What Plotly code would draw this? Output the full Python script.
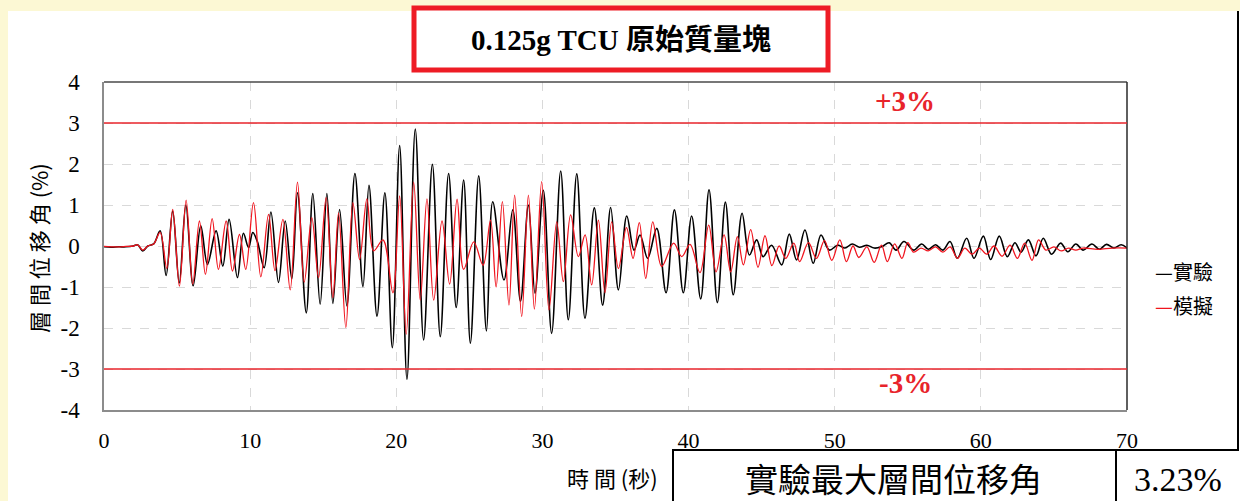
import plotly.graph_objects as go

# ---------------- data (peaks / troughs) ----------------
exp_t = [0, 0.5, 1.0, 1.5, 2.0, 2.3, 2.65, 3.0, 3.4, 3.84, 4.25, 4.7, 5.15, 5.6, 6.1,
         6.62, 7.08, 7.67, 8.13, 8.56, 9.13, 9.54, 9.89, 10.18, 10.5, 10.96, 11.42, 11.94,
         12.4, 12.85, 13.24, 13.84, 14.29, 14.79, 15.25, 15.66, 16.12, 16.62, 17.17, 17.72,
         18.13, 18.68, 19.22, 19.73, 20.23, 20.73, 21.3, 21.87, 22.47, 23.01, 23.58, 24.1,
         24.61, 25.07, 25.64, 26.17, 26.6, 27.37, 27.97, 28.5, 29.04, 29.49, 30.06, 30.63,
         31.25, 31.77, 32.35, 32.91, 33.55, 34.12, 34.67, 35.2, 35.77, 36.27, 36.68, 37.2,
         37.82, 38.46, 39.03, 39.64, 40.21, 40.83, 41.4, 41.97, 42.52, 43.06, 43.66, 44.16,
         44.66, 45.1, 45.68, 46.37, 46.89, 47.39, 47.96, 48.53, 49.06, 49.63, 50.2, 50.7,
         51.2, 51.7, 52.2, 52.7, 53.2, 53.73, 54.2, 54.74, 55.4, 55.95, 56.4, 56.9, 57.4,
         57.89, 58.39, 59.03, 59.53, 60.17, 60.67, 61.26, 61.81, 62.33, 62.75, 63.25, 63.77,
         64.27, 64.84, 65.46, 65.95, 66.5, 67.0, 67.6, 68.1, 68.6, 69.1, 69.6, 70.0]
exp_v = [-0.02, -0.03, -0.02, -0.02, 0.0, 0.03, -0.12, 0.0, 0.05, 0.37, -0.72, 0.85, -0.9,
         1.0, -0.97, 0.49, -0.45, 0.37, -0.49, 0.65, -0.77, 0.31, -0.04, 0.33, 0.1, -0.53,
         0.83, -0.89, 0.61, -0.8, 1.3, -1.63, 1.28, -1.42, 1.28, -1.4, 0.89, -1.46, 1.77,
         -0.99, 1.48, -1.71, 1.3, -2.48, 2.45, -3.25, 2.85, -2.29, 1.99, -2.21, 1.77, -1.5,
         1.61, -2.37, 1.71, -2.07, 1.08, -0.83, 0.88, -1.35, 1.0, -1.15, 1.36, -2.13, 1.83,
         -1.8, 1.76, -1.76, 0.93, -1.44, 0.94, -1.07, 0.73, -0.1, 0.27, -0.3, 0.43, -1.14,
         0.88, -1.14, 0.73, -1.29, 1.37, -1.38, 1.07, -1.19, 0.8, -0.22, 0.15, -0.26, 0.02,
         -0.46, 0.29, -0.34, 0.39, -0.42, 0.27, -0.1, 0.02, -0.05, 0.05, -0.03, 0.02, -0.05,
         -0.02, 0.08, -0.1, 0.11, -0.1, 0.05, -0.08, 0.03, -0.1, 0.11, -0.3, 0.19, -0.3, 0.24,
         -0.33, 0.24, -0.26, 0.08, -0.15, 0.15, -0.24, 0.19, -0.2, 0.07, -0.14, 0.05, -0.1,
         0.05, -0.08, 0.04, -0.05, 0.03, -0.05]

sim_t = [0, 0.5, 1.0, 1.5, 2.0, 2.3, 2.65, 3.0, 3.4, 3.84, 4.3, 4.7, 5.16, 5.62, 6.07,
         6.53, 6.94, 7.4, 7.83, 8.36, 8.79, 9.27, 9.7, 10.23, 10.73, 11.26, 11.7, 12.24,
         12.74, 13.24, 13.7, 14.22, 14.68, 15.2, 15.66, 16.05, 16.55, 17.03, 17.49, 17.99,
         18.45, 19.09, 19.77, 20.23, 20.68, 21.19, 21.64, 22.1, 22.56, 23.13, 23.65, 24.16,
         24.61, 25.3, 25.94, 26.45, 26.83, 27.26, 27.71, 28.1, 28.58, 29.04, 29.45, 29.95,
         30.45, 30.98, 31.43, 31.93, 32.46, 32.92, 33.37, 33.83, 34.28, 34.74, 35.2, 35.75,
         36.2, 36.63, 37.07, 37.55, 38.16, 38.98, 39.53, 40.1, 40.78, 41.38, 41.88, 42.43,
         42.88, 43.34, 43.75, 44.25, 44.75, 45.23, 45.7, 46.2, 46.65, 47.2, 47.6, 48.2,
         48.75, 49.3, 49.8, 50.35, 50.8, 51.25, 51.65, 52.2, 52.7, 53.2, 53.6, 54.1, 54.6,
         55.0, 55.4, 55.9, 56.4, 56.9, 57.4, 57.9, 58.4, 58.9, 59.4, 59.9, 60.4, 60.9, 61.45,
         62.0, 62.5, 63.0, 63.5, 63.95, 64.45, 65.0, 65.5, 66.0, 66.5, 67.0, 68.0, 69.0, 70.0]
sim_v = [-0.01, -0.02, -0.02, -0.01, 0.0, 0.03, -0.1, 0.0, 0.05, 0.33, -0.55, 0.89, -0.98,
         1.12, -0.93, 0.61, -0.69, 0.67, -0.57, 0.61, -0.61, 0.28, -0.57, 1.06, -0.75, 0.77,
         -0.6, 0.65, -1.07, 1.56, -0.88, 0.69, -0.77, 1.18, -1.26, 0.81, -1.99, 1.06, -0.33,
         1.15, -0.12, 0.15, -1.14, 1.22, -2.15, 1.56, -1.32, 1.15, -1.32, 0.61, -0.93, 1.14,
         -0.57, 0.1, -0.47, 0.63, -1.0, 1.08, -1.44, 1.24, -1.72, 1.24, -1.54, 1.57, -1.56,
         0.59, -0.87, 0.76, -0.26, 0.27, -0.95, 0.63, -1.14, 0.59, -0.55, 0.45, -0.3, 0.57,
         -0.79, 0.59, -0.5, 0.07, -0.26, 0.04, -0.65, 0.51, -0.63, 0.27, -0.63, 0.23, -0.46,
         0.4, -0.52, 0.25, -0.48, 0.0, -0.3, 0.07, -0.38, 0.08, -0.3, 0.13, -0.35, 0.15, -0.38,
         0.0, -0.28, -0.02, -0.4, 0.02, -0.38, 0.05, -0.3, 0.08, -0.15, -0.05, -0.12, -0.02,
         -0.15, -0.02, -0.3, -0.05, -0.2, -0.05, -0.2, 0.0, -0.25, 0.02, -0.3, 0.07, -0.35,
         0.15, -0.1, -0.02, -0.12, -0.05, -0.1, -0.05, -0.08, -0.05, -0.05]

x_ticks = [0, 10, 20, 30, 40, 50, 60, 70]
y_ticks = [-4, -3, -2, -1, 0, 1, 2, 3, 4]
limit_levels = [3, -3]
limit_labels = ["+3%", "-3%"]
series_names = ["實驗", "模擬"]
title_text = "0.125g TCU 原始質量塊"
y_title = "層 間 位 移 角 (%)"
x_title = "時 間 (秒)"
table_label = "實驗最大層間位移角"
table_value = "3.23%"

# ---------------- layout helpers ----------------
W, H = 1240, 501
L, R, T, B = 104, 1127, 82, 410


def px(x):
    return (x - L) / (R - L)


def py(y):
    return (B - y) / (B - T)


SERIF = "Liberation Serif, Times New Roman, Noto Sans CJK TC, serif"
CJK = "Noto Sans CJK TC, Liberation Serif, serif"
YELLOW = "#FCF8D4"
RED = "#E8242B"

fig = go.Figure()
fig.add_trace(go.Scatter(x=exp_t, y=exp_v, mode="lines", name=series_names[0],
                         line=dict(color="#000000", width=1.6, shape="spline", smoothing=1.0)))
fig.add_trace(go.Scatter(x=sim_t, y=sim_v, mode="lines", name=series_names[1],
                         line=dict(color="#F0141E", width=1.3, shape="spline", smoothing=1.0)))

shapes = []
# white panel
shapes.append(dict(type="rect", xref="paper", yref="paper", x0=px(8), x1=px(1250),
                   y0=py(11), y1=py(520), fillcolor="white", line=dict(width=0), layer="below"))
# right frame line and table
shapes.append(dict(type="line", xref="paper", yref="paper", x0=px(1238), x1=px(1238),
                   y0=py(11), y1=py(450), line=dict(color="black", width=2)))
shapes.append(dict(type="line", xref="paper", yref="paper", x0=px(672), x1=px(1239),
                   y0=py(450), y1=py(450), line=dict(color="black", width=2)))
for xx in (673, 1116):
    shapes.append(dict(type="line", xref="paper", yref="paper", x0=px(xx), x1=px(xx),
                       y0=py(450), y1=py(505), line=dict(color="black", width=2)))
# plot frame top/right
shapes.append(dict(type="line", xref="paper", yref="paper", x0=0, x1=1, y0=1, y1=1,
                   line=dict(color="#4a4a4a", width=1.5)))
shapes.append(dict(type="line", xref="paper", yref="paper", x0=1, x1=1, y0=0, y1=1,
                   line=dict(color="#2a2a2a", width=1.5)))
# limit lines
for lv in limit_levels:
    shapes.append(dict(type="line", xref="paper", yref="y", x0=0, x1=1, y0=lv, y1=lv,
                       line=dict(color=RED, width=1.5)))
# title box
shapes.append(dict(type="rect", xref="paper", yref="paper", x0=px(414), x1=px(828),
                   y0=py(8), y1=py(70), fillcolor="white", line=dict(color="#EE1C25", width=5)))


def ann(text, x, y, font, xanchor="center", angle=0):
    return dict(text=text, x=px(x), y=py(y), xref="paper", yref="paper", showarrow=False,
                xanchor=xanchor, yanchor="middle", textangle=angle, font=font)


annotations = [
    ann("<b>" + title_text + "</b>", 621, 40, dict(family=SERIF, size=29, color="black")),
    ann(y_title, 38, 248, dict(family=CJK, size=22, color="black"), angle=-90),
    ann(x_title, 612, 477, dict(family=CJK, size=22, color="black")),
    ann("<b>" + limit_labels[0] + "</b>", 905, 101, dict(family=SERIF, size=29, color=RED)),
    ann("<b>" + limit_labels[1] + "</b>", 905, 383, dict(family=SERIF, size=29, color=RED)),
    ann("—" + series_names[0], 1153, 271, dict(family=CJK, size=20, color="black"), "left"),
    ann("<span style='color:#F0141E'>—</span>" + series_names[1], 1153, 305,
        dict(family=CJK, size=20, color="black"), "left"),
    ann(table_label, 893, 478, dict(family=CJK, size=33, color="black")),
    ann(table_value, 1178, 479, dict(family=SERIF, size=34, color="black")),
]

fig.update_layout(
    width=W, height=H,
    margin=dict(l=L, r=W - R, t=T, b=H - B, pad=0),
    paper_bgcolor=YELLOW, plot_bgcolor="white",
    showlegend=False,
    shapes=shapes, annotations=annotations,
    xaxis=dict(range=[0, 70], tickvals=x_ticks, ticktext=[str(v) for v in x_ticks],
               showgrid=True, gridcolor="#D9D9D9", griddash="dash", gridwidth=1,
               zeroline=False, showline=True, linecolor="#8C8C8C", linewidth=1.5,
               ticks="", ticklabelstandoff=10,
               tickfont=dict(family=SERIF, size=22, color="black")),
    yaxis=dict(range=[-4, 4], tickvals=y_ticks, ticktext=[str(v) for v in y_ticks],
               showgrid=True, gridcolor="#D9D9D9", griddash="dash", gridwidth=1,
               zeroline=False, showline=True, linecolor="#8C8C8C", linewidth=1.5,
               ticks="", ticklabelstandoff=18,
               tickfont=dict(family=SERIF, size=23, color="black")),
)

fig.write_html("out.html")
